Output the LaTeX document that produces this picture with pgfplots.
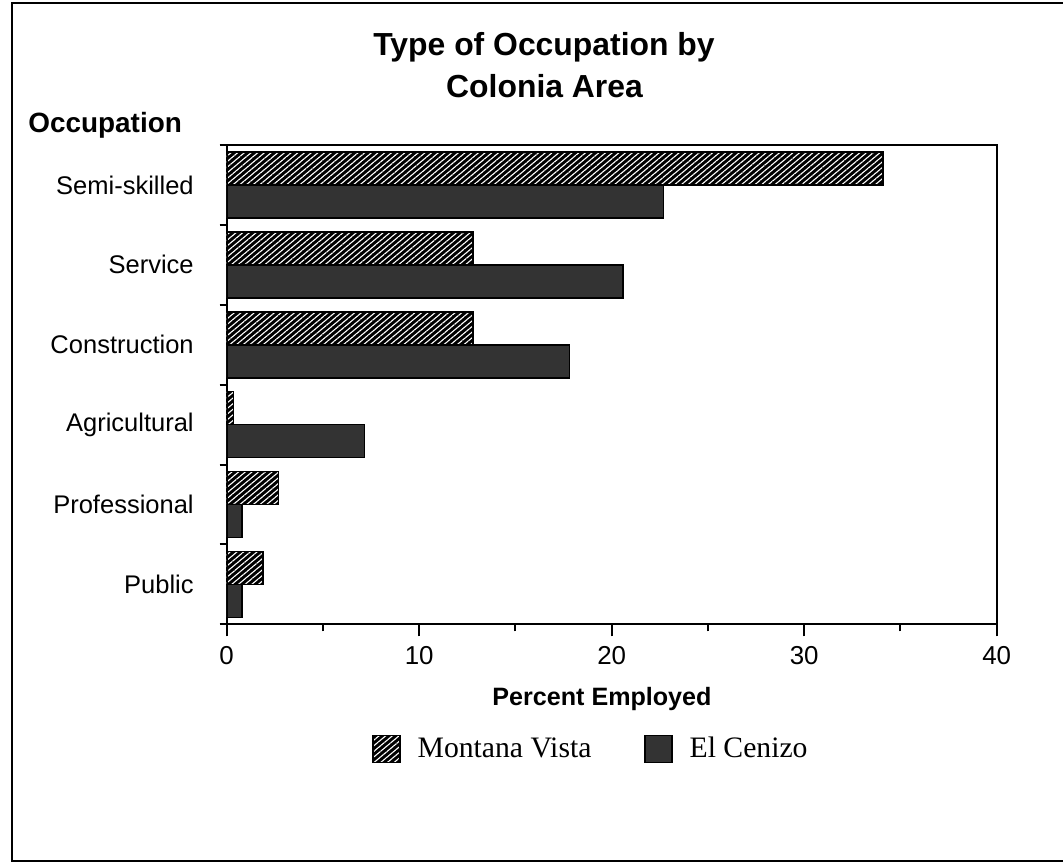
\documentclass[border=0pt]{standalone}
\usepackage{fontspec}
\setmainfont{Liberation Serif}
\setsansfont{Liberation Sans}
\usepackage{pgfplots}
\pgfplotsset{compat=1.18}
\usetikzlibrary{patterns.meta}
\begin{document}
\begin{tikzpicture}
\useasboundingbox (0bp,0bp) rectangle (531.5bp,-431.5bp);
\draw[line width=1.2bp] (531.5bp,-1.5bp) -- (6bp,-1.5bp) -- (6bp,-430.5bp) -- (531.5bp,-430.5bp);
\node[anchor=base, font=\sffamily\bfseries\fontsize{16}{16}\selectfont, inner sep=0pt] at (272bp,-27.5bp) {Type of Occupation by};
\node[anchor=base, font=\sffamily\bfseries\fontsize{16}{16}\selectfont, inner sep=0pt] at (272.25bp,-48.5bp) {Colonia Area};
\node[anchor=base west, font=\sffamily\bfseries\fontsize{14}{14}\selectfont, inner sep=0pt] at (14bp,-66bp) {Occupation};
\node[anchor=base, font=\sffamily\bfseries\fontsize{12.6}{12.6}\selectfont, inner sep=0pt] at (301bp,-352.5bp) {Percent Employed};
\begin{axis}[
  at={(113.35bp,-312.15bp)}, anchor=south west,
  scale only axis, width=385bp, height=239.65bp,
  xbar, bar width=16.5bp,
  xmin=0, xmax=40, ymin=-0.5, ymax=5.5,
  xtick={0,10,20,30,40}, minor x tick num=1,
  ytick={0,1,2,3,4,5},
  yticklabels={Public,Professional,Agricultural,Construction,Service,Semi-skilled},
  minor ytick={-0.5,0.5,1.5,2.5,3.5,4.5,5.5},
  major y tick style={draw=none},
  tick pos=left, tick align=outside,
  major tick length=6bp, minor tick length=3.5bp,
  every tick/.style={line width=1bp, black},
  axis line style={line width=1bp},
  /pgf/number format/assume math mode=true,
  xticklabel style={font=\sffamily\fontsize{13}{13}\selectfont, yshift=-1.5bp},
  yticklabel style={font=\sffamily\fontsize{12.8}{12.8}\selectfont, xshift=-7bp},
  legend style={at={(0.181,-0.26)}, anchor=west, draw=none, fill=none,
    font=\rmfamily\fontsize{14.9}{14.9}\selectfont, legend columns=2,
    /tikz/every odd column/.append style={column sep=6.5bp},
    /tikz/every even column/.append style={column sep=24.5bp}},
  legend image code/.code={\draw[#1,line width=0.6bp] (0bp,-6.75bp) rectangle (13.5bp,6.75bp);},
]
\addplot[draw=black, line width=0.8bp, fill=black, bar shift=8.25bp,
  postaction={pattern={Lines[angle=40,distance=2.15bp,line width=0.55bp]}, pattern color=white}]
  coordinates {(1.9,0) (2.7,1) (0.35,2) (12.8,3) (12.8,4) (34.1,5)};
\addlegendentry{Montana Vista}
\addplot[draw=black, line width=0.8bp, fill=black!80, bar shift=-8.25bp]
  coordinates {(0.8,0) (0.8,1) (7.15,2) (17.8,3) (20.6,4) (22.7,5)};
\addlegendentry{El Cenizo}
\end{axis}
\end{tikzpicture}
\end{document}
